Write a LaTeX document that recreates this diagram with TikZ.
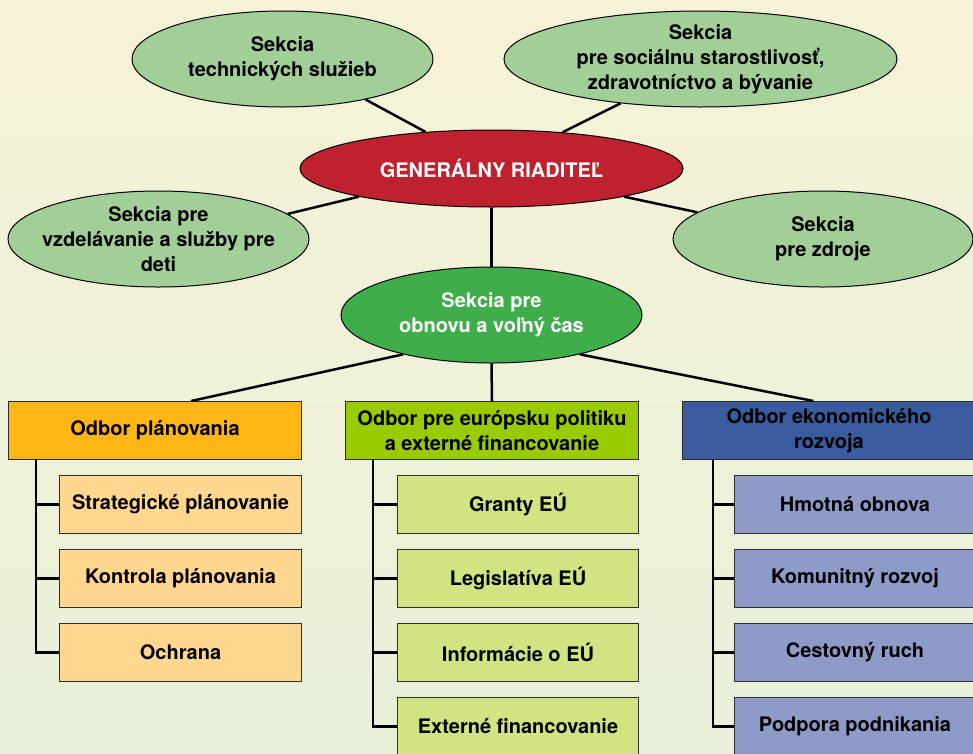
\documentclass[tikz,border=0pt]{standalone}
\usepackage{fontspec}
\setmainfont{TeX Gyre Heros}
\usetikzlibrary{shapes.geometric,calc}
\definecolor{bgtop}{RGB}{246,242,215}
\definecolor{bgbot}{RGB}{232,240,217}
\definecolor{secgreen}{RGB}{162,206,152}
\definecolor{grred}{RGB}{190,34,47}
\definecolor{obngreen}{RGB}{63,174,74}
\definecolor{plancol}{RGB}{253,182,22}
\definecolor{plansub}{RGB}{255,215,144}
\definecolor{eucol}{RGB}{153,204,0}
\definecolor{eusub}{RGB}{210,228,130}
\definecolor{ekocol}{RGB}{58,91,158}
\definecolor{ekosub}{RGB}{142,154,200}
\definecolor{boxline}{RGB}{45,45,45}
\begin{document}
\begin{tikzpicture}[x=1pt,y=-1pt,
  every node/.style={font=\bfseries\fontsize{20}{25}\selectfont, align=center},
  ell/.style={ellipse, draw=black, line width=1pt, inner sep=-20pt},
  sec/.style={ell, fill=secgreen, text=black},
  box/.style={rectangle, draw=boxline, line width=1pt, inner sep=0pt,
              minimum height=58pt, anchor=north west},
  conn/.style={line width=2.5pt, black},
  tree/.style={line width=2.5pt, black},
]
\useasboundingbox (0,0) rectangle (973,753);
\clip (0,0) rectangle (973,753);
\shade[top color=bgtop, bottom color=bgbot] (0,0) rectangle (973,753);

% ellipses
\node[sec, minimum width=301pt, minimum height=96pt] (tech) at (282.5,59) {Sekcia\\technických služieb};
\node[sec, minimum width=393pt, minimum height=96pt] (soc) at (700.5,59) {Sekcia\\pre sociálnu starostlivosť,\\zdravotníctvo a bývanie};
\node[ell, fill=grred, text=white, minimum width=383pt, minimum height=77pt] (gr) at (491.5,168.5) {GENERÁLNY RIADITEĽ};
\node[sec, minimum width=301pt, minimum height=96pt] (vzd) at (158.5,239) {Sekcia pre\\vzdelávanie a služby pre\\deti};
\node[sec, minimum width=300pt, minimum height=96pt] (zdr) at (823,239) {Sekcia\\pre zdroje};
\node[ell, fill=obngreen, text=white, minimum width=301pt, minimum height=96pt] (obn) at (491.5,315) {Sekcia pre\\obnovu a voľný čas};

% boxes
\node[box, fill=plancol, minimum width=293pt] (plan) at (8,401) {Odbor plánovania};
\node[box, fill=plansub, minimum width=242pt] (p1) at (59,475) {Strategické plánovanie};
\node[box, fill=plansub, minimum width=242pt] (p2) at (59,549) {Kontrola plánovania};
\node[box, fill=plansub, minimum width=242pt] (p3) at (59,623) {Ochrana};

\node[box, fill=eucol, minimum width=293pt] (eu) at (345,401) {Odbor pre európsku politiku\\a externé financovanie};
\node[box, fill=eusub, minimum width=241pt] (e1) at (397,475) {Granty EÚ};
\node[box, fill=eusub, minimum width=241pt] (e2) at (397,549) {Legislatíva EÚ};
\node[box, fill=eusub, minimum width=241pt] (e3) at (397,623) {Informácie o EÚ};
\node[box, fill=eusub, minimum width=241pt] (e4) at (397,697) {Externé financovanie};

\node[box, fill=ekocol, minimum width=293pt] (eko) at (682,401) {Odbor ekonomického\\rozvoja};
\node[box, fill=ekosub, minimum width=241pt] (k1) at (734,475) {Hmotná obnova};
\node[box, fill=ekosub, minimum width=241pt] (k2) at (734,549) {Komunitný rozvoj};
\node[box, fill=ekosub, minimum width=241pt] (k3) at (734,623) {Cestovný ruch};
\node[box, fill=ekosub, minimum width=241pt] (k4) at (734,697) {Podpora podnikania};

% connectors
\draw[conn] (tech.334) -- (gr.151);
\draw[conn] (soc.209) -- (gr.27);
\draw[conn] (vzd.11) -- (gr.192.5);
\draw[conn] (zdr.168) -- (gr.348);
\draw[conn] (gr.south) -- (obn.north);
\draw[conn] (obn.204) -- ($(plan.north west)!0.623!(plan.north east)$);
\draw[conn] (obn.south) -- (eu.north);
\draw[conn] (obn.336) -- ($(eko.north west)!0.447!(eko.north east)$);

% trees
\coordinate (pt) at ($(plan.south west)+(28,0)$);
\draw[tree] (pt) |- (p1.west);
\draw[tree] (pt) |- (p2.west);
\draw[tree] (pt) |- (p3.west);
\coordinate (et) at ($(eu.south west)+(28,0)$);
\draw[tree] (et) |- (e1.west);
\draw[tree] (et) |- (e2.west);
\draw[tree] (et) |- (e3.west);
\draw[tree] (et) |- (e4.west);
\coordinate (kt) at ($(eko.south west)+(31,0)$);
\draw[tree] (kt) |- (k1.west);
\draw[tree] (kt) |- (k2.west);
\draw[tree] (kt) |- (k3.west);
\draw[tree] (kt) |- (k4.west);
\end{tikzpicture}
\end{document}
